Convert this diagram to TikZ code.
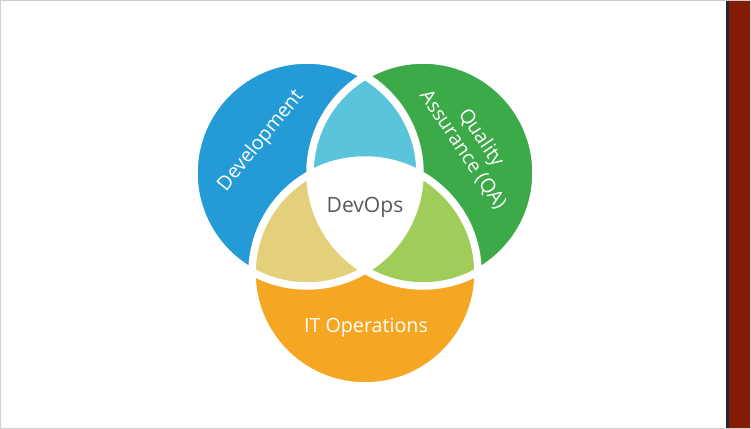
\documentclass[tikz,border=0pt]{standalone}
\usepackage{fontspec}
\setmainfont{Open Sans}
\usepackage{xcolor}
\usepackage{tikz}
\usetikzlibrary{positioning}
\definecolor{devblue}{RGB}{36, 155, 214}
\definecolor{qagreen}{RGB}{61, 170, 73}
\definecolor{opsorange}{RGB}{245, 166, 35}
\definecolor{devqacol}{RGB}{90, 197, 218}
\definecolor{devopscol}{RGB}{228, 208, 122}
\definecolor{qaopscol}{RGB}{160, 205, 90}
\definecolor{labelgray}{RGB}{88, 89, 91}
\definecolor{framegray}{RGB}{210, 206, 206}
\definecolor{barnavy}{RGB}{28, 40, 56}
\definecolor{barred}{RGB}{130, 28, 4}
\tikzset{
  gapline/.style={draw=white, line width=0.15cm},
  setlabel/.style={
    text=white, font=\fontsize{11.2}{12.5}\selectfont,
    align=center, inner sep=0pt
  },
  corelabel/.style={
    text=labelgray, font=\fontsize{12}{14}\selectfont, inner sep=0pt
  }
}

\begin{document}
\begin{tikzpicture}[x=0.02cm, y=-0.02cm]

  %% — — — Frame — — —
  \useasboundingbox (0,0) rectangle (751,429);
  \draw[framegray, line width=0.02cm] (0.5,0.5) rectangle (750.5,428.5);
  \fill[barnavy] (726,1) rectangle (729,428);
  \fill[barred]  (729,1) rectangle (750,428);

  %% — — — Circle centres — — —
  \coordinate (dev) at (307,173);
  \coordinate (qa)  at (423,173);
  \coordinate (ops) at (365,273);
  \def\rad{113}

  %% — — — Sets — — —
  \fill[devblue]   (dev) circle[radius=\rad];
  \fill[qagreen]   (qa)  circle[radius=\rad];
  \fill[opsorange] (ops) circle[radius=\rad];

  %% — — — Overlaps — — —
  \begin{scope}
    \clip (qa) circle[radius=\rad];
    \fill[qaopscol] (ops) circle[radius=\rad];
  \end{scope}
  \begin{scope}
    \clip (dev) circle[radius=\rad];
    \fill[devqacol]  (qa)  circle[radius=\rad];
    \fill[devopscol] (ops) circle[radius=\rad];
    \clip (qa) circle[radius=\rad];
    \fill[white] (ops) circle[radius=\rad];
  \end{scope}

  %% — — — Gaps — — —
  \draw[gapline] (dev) circle[radius=\rad];
  \draw[gapline] (qa)  circle[radius=\rad];
  \draw[gapline] (ops) circle[radius=\rad];

  %% — — — Labels — — —
  \node[setlabel, rotate=51] (devlabel) at (261,141) {Development};
  \node[setlabel, rotate=-56] (qalabel) at (472,144)
    {Quality\\Assurance (QA)};
  \node[setlabel] (opslabel) at (366,328) {IT Operations};
  \node[corelabel] (core) at (365,207) {DevOps};

\end{tikzpicture}
\end{document}
